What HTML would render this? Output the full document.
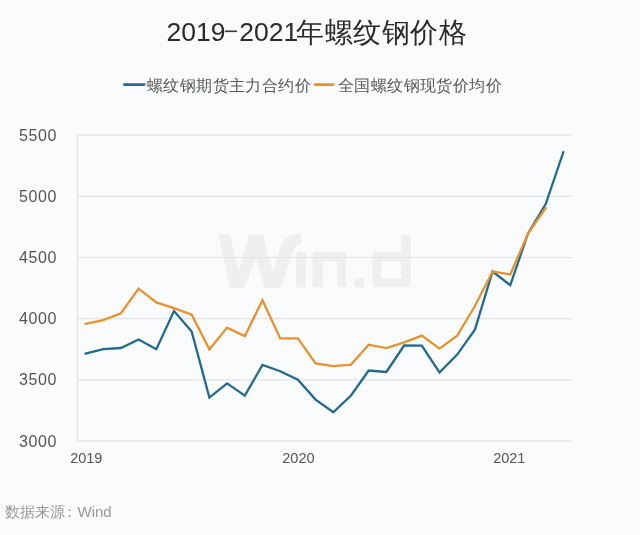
<!DOCTYPE html>
<html><head><meta charset="utf-8">
<style>
html,body{margin:0;padding:0;background:#fafbfd;}
body{width:640px;height:535px;overflow:hidden;font-family:"Liberation Sans",sans-serif;}
svg{display:block;will-change:transform;}
text{font-family:"Liberation Sans",sans-serif;}
.ax{font-size:16px;fill:#555;letter-spacing:0.6px}
.xl{font-size:14.5px;fill:#555;}
.lg{font-size:16px;fill:#595959;letter-spacing:0.4px}
.tt{font-size:28px;fill:#2b2b2b;}
.src{font-size:14px;fill:#999;}
</style></head><body>
<svg width="640" height="535" viewBox="0 0 640 535">
<rect width="640" height="535" fill="#fafbfd"/>
<!-- title -->
<text x="166.6" y="41" class="tt" style="font-size:26.5px">2019</text>
<rect x="225" y="30.5" width="12" height="1.6" fill="#3a3a3a"/>
<text x="239.2" y="41" class="tt" style="font-size:26.5px">2021</text>
<text x="296" y="41.5" class="tt" style="letter-spacing:0.5px">年螺纹钢价格</text>
<!-- legend -->
<rect x="123" y="83.2" width="22.5" height="2.8" rx="1.4" fill="#236b8e"/>
<text x="147" y="90.5" class="lg">螺纹钢期货主力合约价</text>
<rect x="313.7" y="83.2" width="21" height="2.8" rx="1.4" fill="#e8922f"/>
<text x="338" y="90.5" class="lg">全国螺纹钢现货价均价</text>
<!-- watermark -->
<g fill="#eeeff0">
<path d="M219,235 L229.5,235 L238.5,273 L249.5,235 L262.5,235 L272.5,273 L284.5,238 L300.5,233.5 L301.5,243 L294,246.5 L280.5,287.4 L265,287.4 L256,257 L243.5,287.4 L230.5,287.4 Z" stroke="#eeeff0" stroke-width="1" stroke-linejoin="round"/>
<rect x="296.4" y="251.4" width="9.4" height="36" rx="1"/>
<path d="M312.5,287.3 L312.5,254.4 Q312.5,251.4 315.5,251.4 L343,251.4 Q346,251.4 346,254.4 L346,287.3 L337.3,287.3 L337.3,261.2 L323,261.2 L323,287.3 Z"/>
<rect x="354" y="278.3" width="10" height="9" rx="1"/>
<path d="M401.1,235.2 L410.7,235.2 L410.7,284.3 Q410.7,287.3 407.7,287.3 L375.4,287.3 Q372.4,287.3 372.4,284.3 L372.4,254.4 Q372.4,251.4 375.4,251.4 L401.1,251.4 Z M381.4,261.2 L381.4,278.3 L401.1,278.3 L401.1,261.2 Z" fill-rule="evenodd"/>
</g>
<line x1="77" y1="135.2" x2="572" y2="135.2" stroke="#e2e3e5" stroke-width="1.2"/>
<line x1="77" y1="196.3" x2="572" y2="196.3" stroke="#e2e3e5" stroke-width="1.2"/>
<line x1="77" y1="257.5" x2="572" y2="257.5" stroke="#e2e3e5" stroke-width="1.2"/>
<line x1="77" y1="318.6" x2="572" y2="318.6" stroke="#e2e3e5" stroke-width="1.2"/>
<line x1="77" y1="379.8" x2="572" y2="379.8" stroke="#e2e3e5" stroke-width="1.2"/>
<line x1="77" y1="440.9" x2="572" y2="440.9" stroke="#e2e3e5" stroke-width="1.2"/>
<line x1="77.5" y1="135" x2="77.5" y2="441" stroke="#e3e4e6" stroke-width="1.5"/>
<text x="57.1" y="140.8" text-anchor="end" class="ax">5500</text>
<text x="57.1" y="201.9" text-anchor="end" class="ax">5000</text>
<text x="57.1" y="263.1" text-anchor="end" class="ax">4500</text>
<text x="57.1" y="324.2" text-anchor="end" class="ax">4000</text>
<text x="57.1" y="385.4" text-anchor="end" class="ax">3500</text>
<text x="57.1" y="446.5" text-anchor="end" class="ax">3000</text>
<text x="86.3" y="462.5" text-anchor="middle" class="xl">2019</text>
<text x="298.4" y="462.5" text-anchor="middle" class="xl">2020</text>
<text x="509.3" y="462.5" text-anchor="middle" class="xl">2021</text>
<polyline points="85.5,353.7 103.2,349.1 120.9,348.0 138.6,339.5 156.3,349.2 174.0,311.1 191.7,331.6 209.4,397.6 227.1,383.4 244.8,395.6 262.5,365.0 280.2,371.2 297.9,379.7 315.6,399.6 333.3,412.3 351.0,395.5 368.7,370.5 386.4,372.0 404.1,345.5 421.8,345.6 439.5,372.5 457.2,354.6 474.9,329.7 492.6,271.5 510.3,285.2 528.0,233.5 545.7,204.0 563.4,152.0" fill="none" stroke="#236b8e" stroke-width="2.3" stroke-linejoin="miter" stroke-linecap="round"/>
<polyline points="85.5,323.8 103.2,320.1 120.9,313.2 138.6,288.7 156.3,302.4 174.0,308.1 191.7,314.7 209.4,349.3 227.1,327.6 244.8,336.1 262.5,300.2 280.2,338.4 297.9,338.4 315.6,363.4 333.3,366.1 351.0,364.6 368.7,344.7 386.4,348.1 404.1,342.4 421.8,335.6 439.5,348.6 457.2,335.6 474.9,306.0 492.6,271.5 510.3,274.5 528.0,233.5 545.7,208.0" fill="none" stroke="#e8922f" stroke-width="2.3" stroke-linejoin="miter" stroke-linecap="round"/>
<text x="5" y="517" class="src" style="font-size:14.5px">数据来源</text><text x="61.5" y="517" class="src" style="font-size:14.5px">：</text><text x="77.5" y="517" class="src" style="font-size:15px">Wind</text>
</svg>
</body></html>
